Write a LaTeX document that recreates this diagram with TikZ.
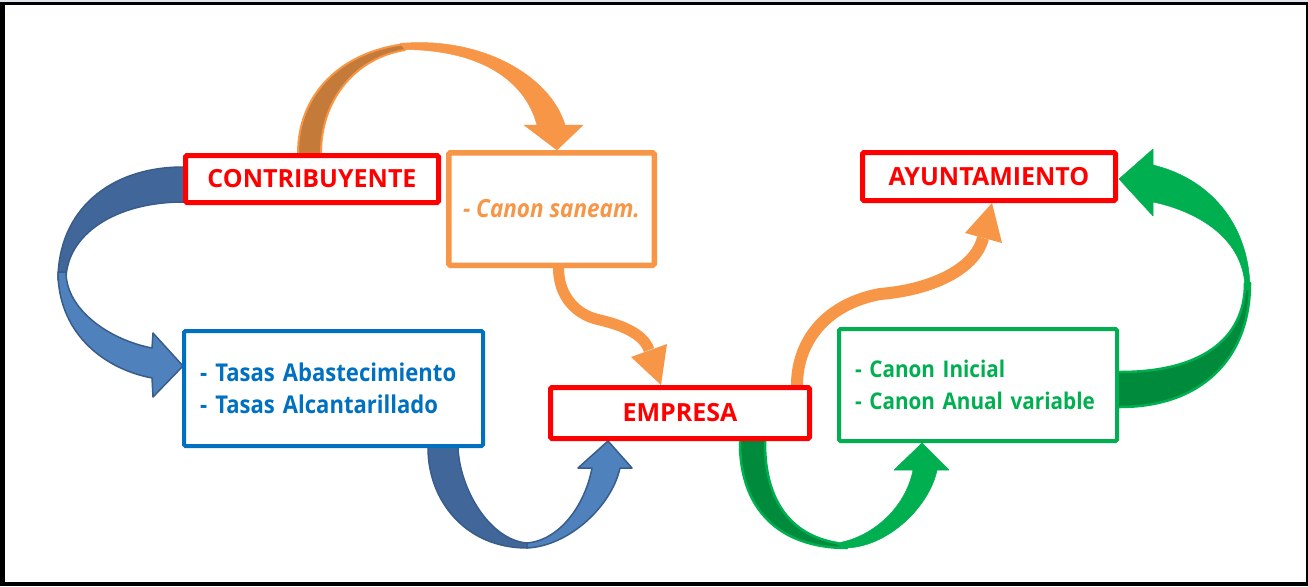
\documentclass[tikz,border=0pt]{standalone}
\usepackage{fontspec}
\setmainfont{Open Sans}
\newfontfamily\narrowfont{Open Sans}[FakeStretch=0.9]
\usetikzlibrary{calc}
\definecolor{cred}{HTML}{FF0000}
\definecolor{corange}{HTML}{F79646}
\definecolor{corangedk}{HTML}{C47A38}
\definecolor{cblue}{HTML}{0070C0}
\definecolor{cblueribbon}{HTML}{4F81BD}
\definecolor{cbluedk}{HTML}{41679A}
\definecolor{cblueedge}{HTML}{385D8A}
\definecolor{cgreen}{HTML}{00B050}
\definecolor{cgreendk}{HTML}{008A3C}
\definecolor{ctop}{HTML}{DDE5EE}
\pgfdeclarelayer{framelayer}
\pgfdeclarelayer{ribbonlayer}
\pgfsetlayers{framelayer,ribbonlayer,main}
\begin{document}
\begin{tikzpicture}[x=1pt,y=-1pt,
  labelbox/.style={draw=cred, line width=5pt, fill=white, rounded corners=1.5pt,
    font=\bfseries\fontsize{25}{30}\selectfont, text=cred, inner sep=0pt},
  listbox/.style={fill=white, rounded corners=1.5pt, line width=4pt,
    align=left, inner xsep=16pt, inner ysep=0pt},
  blueback/.style={fill=cbluedk, draw=cblueedge, line width=1.5pt, line join=round},
  bluefront/.style={fill=cblueribbon, draw=cblueedge, line width=1.5pt, line join=round},
  orangeback/.style={fill=corangedk, draw=corange, line width=2pt, line join=round},
  orangefront/.style={fill=corange, draw=corange, line width=0.5pt, line join=round},
  greenback/.style={fill=cgreendk, draw=cgreen, line width=2.5pt, line join=round},
  greenfront/.style={fill=cgreen, draw=cgreen, line width=0.5pt, line join=round},
  orangeline/.style={draw=corange, line width=11pt},
  orangehead/.style={fill=corange}]
\useasboundingbox (0,0) rectangle (1308,586);
\begin{pgfonlayer}{framelayer}
  \fill[black] (0,0) rectangle (1308,586);
  \fill[white] (5,5) rectangle (1306,582);
  \fill[ctop] (0,0) rectangle (1308,2);
\end{pgfonlayer}

% boxes
\node[labelbox, minimum width=253pt, minimum height=47pt] (contrib) at (312,179) {CONTRIBUYENTE};
\node[draw=corange, line width=5.5pt, fill=white, rounded corners=1.5pt,
  minimum width=205.5pt, minimum height=112.5pt, inner sep=0pt,
  font=\narrowfont\bfseries\itshape\fontsize{25}{28}\selectfont, text=corange] (canon) at (551.5,209) {- Canon saneam.};
\node[labelbox, minimum width=253pt, minimum height=48pt] (ayunt) at (989,176.5) {AYUNTAMIENTO};
\node[listbox, draw=cblue, text=cblue, text width=267pt, minimum height=115pt,
  font=\narrowfont\bfseries\fontsize{24.5}{32}\selectfont] (tasas) at (333.5,388.5)
  {\mbox{- Tasas Abastecimiento}\\\mbox{- Tasas Alcantarillado}};
\node[labelbox, minimum width=259pt, minimum height=51pt] (empresa) at (680,413) {EMPRESA};
\node[listbox, draw=cgreen, text=cgreen, text width=246pt, minimum height=112pt,
  font=\narrowfont\bfseries\fontsize{23}{32}\selectfont] (canonini) at (978,385)
  {\mbox{- Canon Inicial}\\\mbox{- Canon Anual variable}};

\begin{pgfonlayer}{ribbonlayer}
  % A: contribuyente -> canon saneam.
  \path[orangeback] (298,158) -- (298,153) .. controls (298,95) and (340,52) .. (405,44)
    -- (405,50) .. controls (355,58) and (321,100) .. (321,153) -- (321,158) -- cycle;
  \path[orangefront] (400,43.5) .. controls (480,36) and (550,75) .. (565,125)
    -- (583,125) -- (557,150) -- (524,125) -- (537,125)
    .. controls (525,80) and (480,50) .. (405,49.5) -- cycle;
  % C: contribuyente -> tasas
  \path[blueback] (188,167) -- (183,167) .. controls (110,167) and (58,210) .. (58,280)
    -- (66,280) .. controls (66,235) and (115,202) .. (183,202) -- (188,202) -- cycle;
  \path[bluefront] (58,272) .. controls (58,330) and (100,368) .. (152,378)
    -- (153,397) -- (183,366) -- (153,333) -- (152,348)
    .. controls (110,340) and (66,310) .. (66,272) -- cycle;
  % D: tasas -> empresa
  \path[blueback] (428,443) -- (428,448) .. controls (428,500) and (465,548) .. (527,548)
    -- (527,543) .. controls (490,540) and (460,490) .. (458,448) -- (458,443) -- cycle;
  \path[bluefront] (527,548) .. controls (570,546) and (612,505) .. (620,468)
    -- (632,468) -- (608,441) -- (578,468) -- (592,468)
    .. controls (585,505) and (560,540) .. (527,543) -- cycle;
  % E: empresa -> canon inicial
  \path[greenback] (740,438) -- (740,443) .. controls (740,510) and (780,548) .. (847,548)
    -- (837,543) .. controls (790,535) and (765,500) .. (765,443) -- (765,438) -- cycle;
  \path[greenfront] (847,548) .. controls (890,546) and (930,505) .. (937,470)
    -- (949,470) -- (922,443) -- (894,470) -- (913,470)
    .. controls (905,510) and (870,538) .. (837,543) -- cycle;
  % G: canon inicial -> ayuntamiento
  \path[greenback] (1115,407) -- (1120,407) .. controls (1200,407) and (1250,360) .. (1250,283)
    -- (1245,283) .. controls (1245,340) and (1200,372) .. (1120,372) -- (1115,372) -- cycle;
  \path[greenfront] (1250,290) .. controls (1250,230) and (1215,180) .. (1153,165)
    -- (1153,149) -- (1119,179) -- (1153,216) -- (1153,202)
    .. controls (1200,212) and (1245,240) .. (1245,290) -- cycle;
  % B: canon saneam. -> empresa
  \draw[orangeline] ([xshift=7pt]canon.south) .. controls (558.5,295) and (575,315) .. (600,320)
    .. controls (625,326) and (644,335) .. (649,350);
  \fill[orangehead] (631,357) -- (667,344) -- ([xshift=-19pt]empresa.north) -- cycle;
  % F: empresa -> ayuntamiento
  \draw[orangeline, line width=12pt] ([xshift=117pt]empresa.north) .. controls (797,345) and (822,305) .. (880,294)
    .. controls (930,290) and (975,270) .. (983,238);
  \fill[orangehead] (965,233) -- (1002,243) -- ([xshift=3pt]ayunt.south) -- cycle;
\end{pgfonlayer}
\end{tikzpicture}
\end{document}
